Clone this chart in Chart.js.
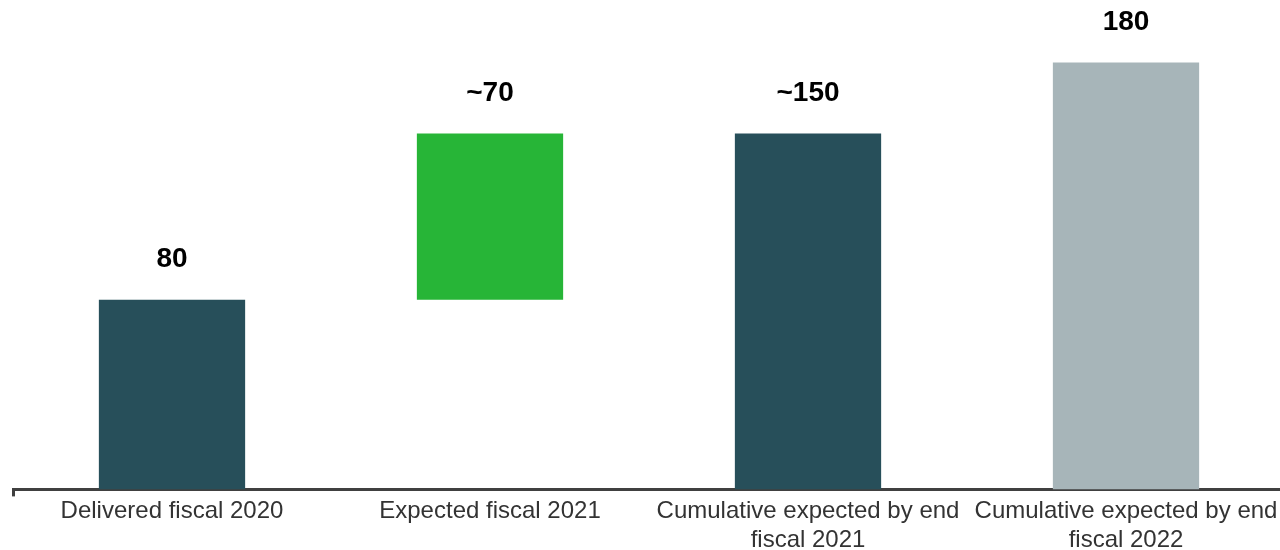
<!DOCTYPE html>
<html>
<head>
<meta charset="utf-8">
<script src="https://cdn.jsdelivr.net/npm/chart.js@4/dist/chart.umd.min.js"></script>
<style>
  html, body { margin: 0; padding: 0; background: #fff; overflow: hidden; }
  #wrap { width: 1285px; height: 556px; }
</style>
</head>
<body>
<div id="wrap"><canvas id="chart"></canvas></div>
<script>
// --- data ---
const categories = [
  'Delivered fiscal 2020',
  'Expected fiscal 2021',
  ['Cumulative expected by end', 'fiscal 2021'],
  ['Cumulative expected by end', 'fiscal 2022']
];
const barStart = [0, 80, 0, 0];
const barEnd = [80, 150, 150, 180];
const valueLabels = ['80', '~70', '~150', '180'];
const barColors = ['#274f5a', '#27b537', '#274f5a', '#a7b5b9'];

// value labels drawn above each bar
const topLabels = {
  id: 'topLabels',
  afterDatasetsDraw(chart) {
    const ctx = chart.ctx;
    const meta = chart.getDatasetMeta(0);
    ctx.save();
    ctx.font = 'bold 28px "Liberation Sans", Arial, sans-serif';
    ctx.fillStyle = '#000';
    ctx.textAlign = 'center';
    ctx.textBaseline = 'middle';
    meta.data.forEach((bar, i) => {
      ctx.fillText(valueLabels[i], bar.x, bar.y - 40);
    });
    ctx.restore();
  }
};

new Chart(document.getElementById('chart'), {
  type: 'bar',
  data: {
    labels: categories,
    datasets: [{
      data: barStart.map((s, i) => [s, barEnd[i]]),
      backgroundColor: barColors,
      borderWidth: 0,
      categoryPercentage: 0.92,
      barPercentage: 0.5
    }]
  },
  options: {
    responsive: true,
    maintainAspectRatio: false,
    animation: false,
    layout: { padding: { left: 13, right: 0, top: 15, bottom: 0 } },
    plugins: { legend: { display: false }, tooltip: { enabled: false } },
    scales: {
      x: {
        border: { display: true, color: '#404040', width: 3 },
        grid: {
          drawOnChartArea: false,
          tickLength: 7,
          tickWidth: 3,
          color: c => c.index === 0 ? '#404040' : 'rgba(0,0,0,0)'
        },
        ticks: {
          color: '#333',
          padding: 1,
          maxRotation: 0,
          autoSkip: false,
          font: { family: '"Liberation Sans", Arial, sans-serif', size: 24, lineHeight: 1.2 }
        }
      },
      y: { display: false, min: 0, max: 200 }
    }
  },
  plugins: [topLabels]
});
</script>
</body>
</html>
